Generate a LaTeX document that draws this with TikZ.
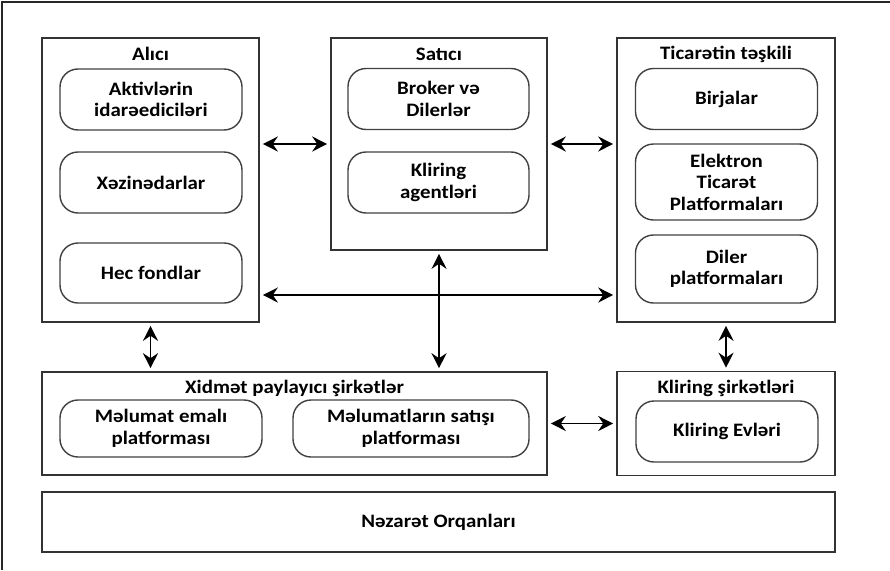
\documentclass[tikz,border=0pt]{standalone}
\usepackage{fontspec}
\setmainfont{Carlito}[FakeStretch=1.1]
\usetikzlibrary{arrows.meta}
\tikzset{
  qrup/.style={draw=black!80, line width=1.6pt, minimum width=#1, inner sep=0pt},
  blok/.style={draw=black!75, line width=1.4pt, rounded corners=18pt, align=center, inner sep=0pt},
  basliq/.style={inner sep=0pt},
  ox/.style={line width=1.6pt, {Stealth[length=15pt,width=15pt,inset=5pt]}-{Stealth[length=15pt,width=15pt,inset=5pt]}, shorten <=3pt, shorten >=3pt}
}
\begin{document}
\begin{tikzpicture}[x=1pt,y=-1pt,font=\fontsize{19}{21.5}\selectfont\bfseries]
\useasboundingbox (0,0) rectangle (890,570);
%çərçivə
\draw[black!85, line width=2pt] (2,570) -- (2,2) -- (890,2);
%əsas bloklar
\node[qrup=217pt, minimum height=284pt] (alici) at (150.5,180) {};
\node[qrup=216pt, minimum height=212pt] (satici) at (439,144) {};
\node[qrup=218pt, minimum height=284pt] (ticaret) at (726,180) {};
\node[qrup=505pt, minimum height=103pt] (xidmet) at (294.5,423.5) {};
\node[qrup=218pt, minimum height=104pt] (kliring) at (726,423.5) {};
\node[qrup=793pt, minimum height=60pt] (nezaret) at (438.5,522) {Nəzarət Orqanları};
%başlıqlar
\node[basliq] (alicit) at (150.5,54) {Alıcı};
\node[basliq] (satucit) at (439,54) {Satıcı};
\node[basliq] (ticarett) at (726,54) {Ticarətin təşkili};
\node[basliq] (xidmett) at (294.5,388) {Xidmət paylayıcı şirkətlər};
\node[basliq] (kliringt) at (726,388) {Kliring şirkətləri};
%daxili bloklar
\node[blok, minimum width=182pt, minimum height=61pt] (aktiv) at (151,99.5) {Aktivlərin\\idarəediciləri};
\node[blok, minimum width=182pt, minimum height=61pt] (xezine) at (151,182.5) {Xəzinədarlar};
\node[blok, minimum width=182pt, minimum height=60pt] (hec) at (151,273) {Hec fondlar};
\node[blok, minimum width=181pt, minimum height=61pt] (broker) at (438.5,99) {Broker və\\Dilerlər};
\node[blok, minimum width=181pt, minimum height=61pt] (agent) at (438.5,182.5) {Kliring\\agentləri};
\node[blok, minimum width=182pt, minimum height=61pt] (birja) at (726.5,99) {Birjalar};
\node[blok, minimum width=182pt, minimum height=76pt] (elektron) at (726.5,182) {Elektron\\Ticarət\\Platformaları};
\node[blok, minimum width=182pt, minimum height=68pt] (diler) at (726.5,269) {Diler\\platformaları};
\node[blok, minimum width=202pt, minimum height=57pt] (emal) at (161,428.5) {Məlumat emalı\\platforması};
\node[blok, minimum width=236pt, minimum height=57pt] (satis) at (411,428.5) {Məlumatların satışı\\platforması};
\node[blok, minimum width=182pt, minimum height=61pt] (evler) at (727,431.5) {Kliring Evləri};
%oxlar
\draw[ox] (satici.west -| alici.east) -- (satici.west);
\draw[ox] (satici.east) -- (satici.east -| ticaret.west);
\draw[ox] ([yshift=-115pt]alici.east) -- ([yshift=-115pt]ticaret.west);
\draw[ox] (satici.south) -- (satici.south |- xidmet.north);
\draw[ox] (alici.south) -- (alici.south |- xidmet.north);
\draw[ox] (ticaret.south) -- (kliring.north);
\draw[ox] (xidmet.east) -- (xidmet.east -| kliring.west);
\end{tikzpicture}
\end{document}
